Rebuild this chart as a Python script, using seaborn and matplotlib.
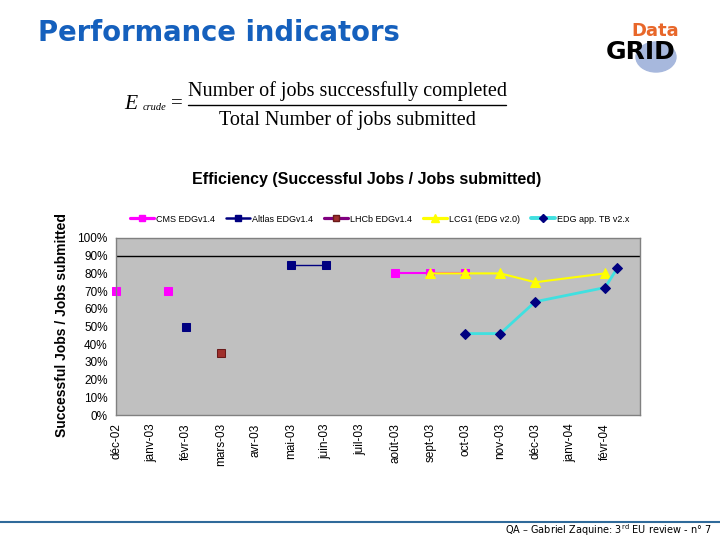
import matplotlib
matplotlib.use("Agg")
import matplotlib.pyplot as plt
from matplotlib.lines import Line2D
from matplotlib.patches import Circle
from matplotlib.ticker import FuncFormatter, MultipleLocator
import pandas as pd
import seaborn as sns

months = ["déc-02", "janv-03", "févr-03", "mars-03", "avr-03", "mai-03", "juin-03",
          "juil-03", "août-03", "sept-03", "oct-03", "nov-03", "déc-03", "janv-04", "févr-04"]

# x = month index (fractional where the point sits between months)
cms_x = [0, 1.5, 8, 9, 10]
cms_y = [0.70, 0.70, 0.80, 0.80, 0.80]
cms_seg = [0, 1, 2, 2, 2]

atlas_x = [2, 5, 6]
atlas_y = [0.50, 0.85, 0.85]
atlas_seg = [0, 1, 1]

lhcb_x = [3]
lhcb_y = [0.35]
lhcb_seg = [0]

lcg_x = [9, 10, 11, 12, 14]
lcg_y = [0.80, 0.80, 0.80, 0.75, 0.80]
lcg_seg = [0, 0, 0, 0, 0]

edg_x = [10, 11, 12, 14, 14.35]
edg_y = [0.46, 0.46, 0.64, 0.72, 0.83]
edg_seg = [0, 0, 0, 0, 0]

labels = ["CMS EDGv1.4", "Altlas EDGv1.4", "LHCb EDGv1.4", "LCG1 (EDG v2.0)", "EDG app. TB v2.x"]

sns.set_theme(style="white")
plt.rcParams["font.family"] = ["Liberation Sans", "DejaVu Sans"]
plt.rcParams["text.color"] = "black"
plt.rcParams["xtick.color"] = "black"
plt.rcParams["ytick.color"] = "black"

fig = plt.figure(figsize=(7.2, 5.4), dpi=100)
ax = fig.add_axes([116 / 720, 1 - 415 / 540, 524 / 720, 177 / 540])
ax.set_facecolor("#c0c0c0")

series = [
    (cms_x, cms_y, cms_seg, dict(color="#ff00ff", lw=1.5, marker="s", ms=6, mfc="#ff00ff", mec="#ff00ff")),
    (atlas_x, atlas_y, atlas_seg, dict(color="#000080", lw=1.0, marker="s", ms=6, mfc="#000080", mec="#000080")),
    (lhcb_x, lhcb_y, lhcb_seg, dict(color="#800080", lw=1.5, marker="s", ms=6, mfc="#a0302c", mec="#6a1a1a")),
    (lcg_x, lcg_y, lcg_seg, dict(color="#ffff00", lw=1.5, marker="^", ms=7, mfc="#ffff00", mec="#ffff00")),
    (edg_x, edg_y, edg_seg, dict(color="#40e0e0", lw=2.0, marker="D", ms=5, mfc="#000080", mec="#000080")),
]

handles = []
for (xs, ys, seg, style), label in zip(series, labels):
    df = pd.DataFrame({"x": xs, "y": ys, "seg": seg})
    sns.lineplot(data=df, x="x", y="y", units="seg", estimator=None, sort=False,
                 ax=ax, color=style["color"], lw=style["lw"], marker=style["marker"],
                 markersize=style["ms"], markerfacecolor=style["mfc"],
                 markeredgecolor=style["mec"], legend=False, clip_on=False)
    handles.append(Line2D([], [], color=style["color"], lw=style["lw"] + 0.8,
                          marker=style["marker"], ms=style["ms"] - 1,
                          mfc=style["mfc"], mec=style["mec"]))

ax.axhline(0.9, color="black", lw=1)
ax.set_xlim(0, 15)
ax.set_ylim(0, 1)
ax.set_xticks(range(len(months)))
ax.set_xticklabels(months, rotation=90, fontsize=8.5)
ax.yaxis.set_major_locator(MultipleLocator(0.1))
ax.yaxis.set_major_formatter(FuncFormatter(lambda v, p: f"{v * 100:.0f}%"))
ax.tick_params(axis="y", labelsize=8.5, length=0, pad=6)
ax.tick_params(axis="x", length=0, pad=6)
ax.set_xlabel("")
ax.set_ylabel("")
for spine in ax.spines.values():
    spine.set_color("#808080")
    spine.set_linewidth(1)

fig.text(367 / 720, 1 - 180 / 540, "Efficiency (Successful Jobs / Jobs submitted)",
         ha="center", va="center", fontsize=11.5, fontweight="bold")
fig.text(62 / 720, 1 - 325 / 540, "Successful Jobs / Jobs submitted", rotation=90,
         ha="center", va="center", fontsize=10, fontweight="bold")

fig.legend(handles, labels, loc="center", bbox_to_anchor=(380 / 720, 1 - 219 / 540),
           ncol=5, frameon=False, fontsize=6.5, handlelength=2.6, columnspacing=1.2,
           handletextpad=0.3)

# slide title
fig.text(38 / 720, 1 - 33 / 540, "Performance indicators", ha="left", va="center",
         fontsize=19.8, fontweight="bold", color="#1560bd", family="DejaVu Sans")

# formula
serif = ["Liberation Serif", "DejaVu Serif"]
fig.text(124 / 720, 1 - 104 / 540, "E", ha="left", va="center", fontsize=15.5,
         style="italic", family=serif)
fig.text(143 / 720, 1 - 108 / 540, "crude", ha="left", va="center", fontsize=7.5,
         style="italic", family=serif)
fig.text(177 / 720, 1 - 104 / 540, "=", ha="center", va="center", fontsize=15, family=serif)
fig.text(347 / 720, 1 - 91 / 540, "Number of jobs successfully completed", ha="center",
         va="center", fontsize=14.5, family=serif)
fig.text(347 / 720, 1 - 120 / 540, "Total Number of jobs submitted", ha="center",
         va="center", fontsize=14.5, family=serif)
fig.add_artist(Line2D([188 / 720, 506 / 720], [1 - 105 / 540, 1 - 105 / 540],
                      color="black", lw=1))

# logo
fig.add_artist(Circle((656 / 720, 1 - 57 / 540), 20 / 720, transform=fig.transFigure,
                      color="#a7b8dd", zorder=0))
fig.text(655 / 720, 1 - 31 / 540, "Data", ha="center", va="center", fontsize=13,
         fontweight="bold", color="#e8672a", family="DejaVu Sans")
fig.text(641 / 720, 1 - 52 / 540, "GRID", ha="center", va="center", fontsize=18,
         fontweight="heavy", color="black", family="DejaVu Sans")

# footer
fig.add_artist(Line2D([0, 1], [1 - 522 / 540, 1 - 522 / 540], color="#2f6a9a", lw=1.5))
fig.text(712 / 720, 1 - 530 / 540, "QA – Gabriel Zaquine: 3$^{\\rm rd}$ EU review - n° 7",
         ha="right", va="center", fontsize=7, family="DejaVu Sans")

fig.savefig("out.png", dpi=100)
